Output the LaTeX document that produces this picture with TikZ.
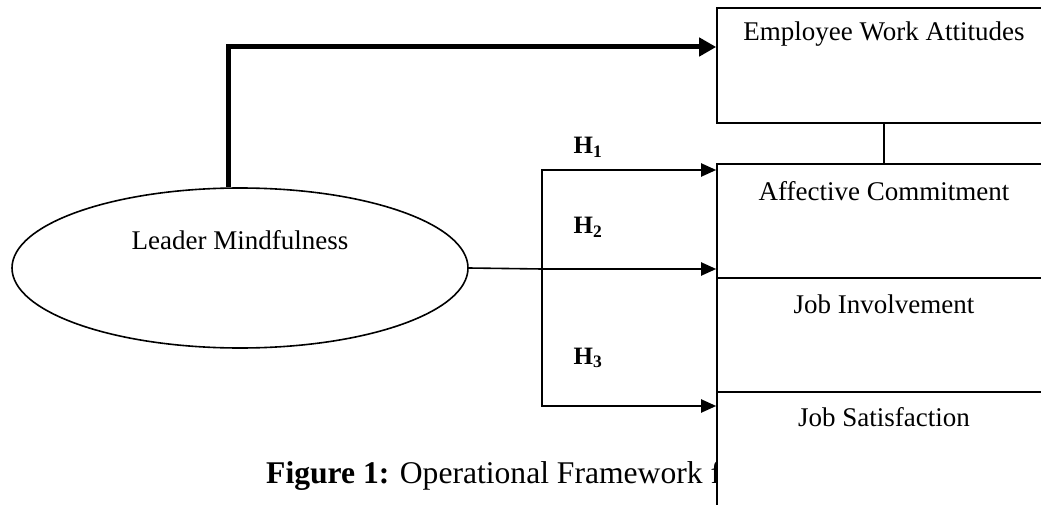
\documentclass[tikz,border=0pt]{standalone}
\usepackage{fontspec}
\setmainfont{Liberation Serif}
\usetikzlibrary{arrows.meta,shapes.geometric}
\tikzset{%
    varbox/.style={draw,line width=1.6pt,fill=white,minimum width=334pt,minimum height=114pt,inner sep=0pt},
    boxtxt/.style={font=\fontsize{27}{32}\selectfont},
    hyp/.style={font=\fontsize{25}{30}\selectfont\bfseries},
    link/.style={line width=2pt,-{Triangle[length=15pt,width=13pt]}}
}

\begin{document}
\begin{tikzpicture}[x=1pt,y=-1pt]
        \clip (0,0) rectangle (1041,505);
        \node[anchor=west,inner sep=0pt,font=\fontsize{31.6}{38}\selectfont] (cap) at (266,476) {\textbf{Figure 1:} Operational Framework f};

        \node[ellipse,draw,line width=1.6pt,minimum width=456pt,minimum height=160pt,inner sep=0pt,
              label={[boxtxt,anchor=center,yshift=28pt]center:Leader Mindfulness}] (lm) at (240,268){};

        \node[varbox,minimum height=115pt,label={[boxtxt,anchor=center,yshift=-27pt]north:Employee Work Attitudes}] (emp) at (884,65.5){};
        \node[varbox,label={[boxtxt,anchor=center,yshift=-28pt]north:Affective Commitment}] (aff) at (884,221){};
        \node[varbox,label={[boxtxt,anchor=center,yshift=-27pt]north:Job Involvement}] (inv) at (884,335){};
        \node[varbox,minimum height=120pt,label={[boxtxt,anchor=center,yshift=-26pt]north:Job Satisfaction}] (sat) at (884,452){};

        \node[hyp] (h1) at (588,147){H\textsubscript{1}};
        \node[hyp] (h2) at (588,227){H\textsubscript{2}};
        \node[hyp] (h3) at (588,358){H\textsubscript{3}};

        \coordinate (bend) at (228,47);
        \coordinate (split) at (542,269);
        \coordinate (t1) at (542,170);
        \coordinate (t3) at (542,406);

        \draw[line width=5pt,-{Triangle[length=17pt,width=18pt]}] (lm.north -| bend) -- (bend) -- (bend -| emp.west);
        \draw[line width=1.6pt] (emp.south) -- (aff.north);
        \draw[line width=1.6pt] (lm.east) -- (split);
        \draw[line width=2pt,line cap=rect] (t1) -- (t3);
        \draw[link] (t1) -- (t1 -| aff.west);
        \draw[link] (split) -- (split -| aff.west);
        \draw[link] (t3) -- (t3 -| sat.west);
    \end{tikzpicture}
\end{document}
